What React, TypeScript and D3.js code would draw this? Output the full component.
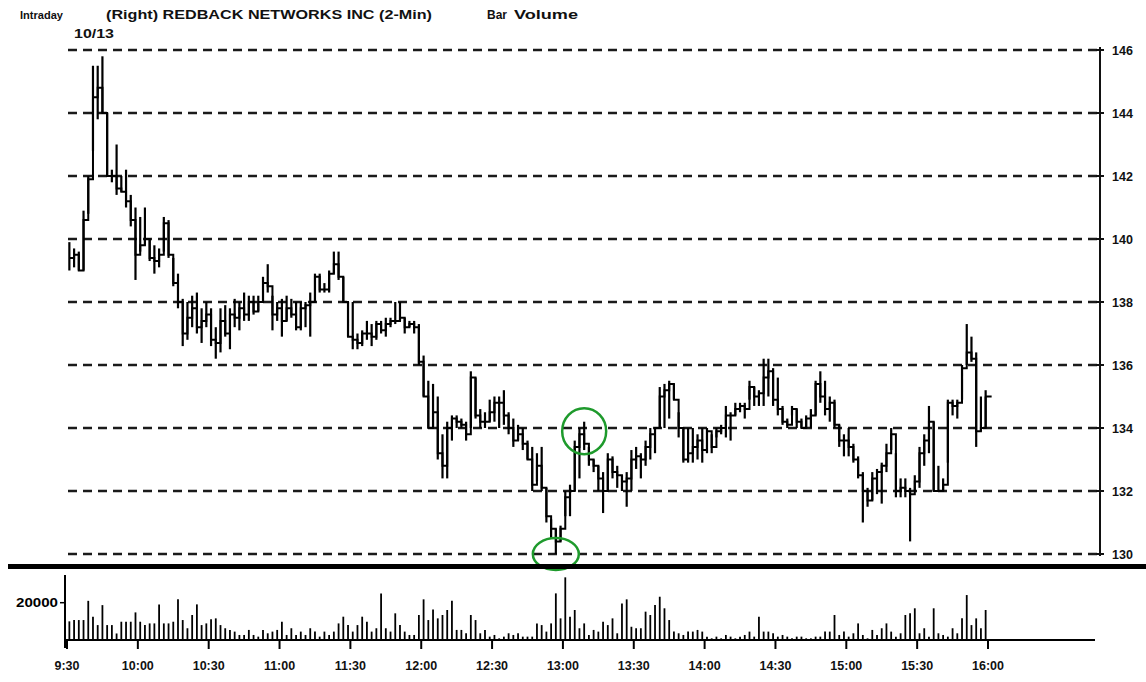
import React, { useEffect, useRef } from 'react';
import * as d3 from 'd3';

// 2-minute bars, 9:30 -> 16:00 (195 bars)
const priceHigh = [
  139.9, 139.7, 139.6, 140.9, 142.0, 145.5, 145.5, 145.8, 144.0, 142.2, 143.0, 142.0, 142.2, 141.4, 141.0,
  140.7, 141.0, 140.0, 139.8, 139.7, 140.7, 140.6, 139.4, 138.9, 138.1, 138.0, 138.2, 138.3, 137.8, 138.0,
  137.8, 137.2, 137.8, 137.9, 137.8, 138.1, 138.0, 138.3, 138.2, 138.2, 138.2, 138.8, 139.2, 138.2, 138.0,
  138.1, 138.2, 138.1, 138.0, 138.0, 138.0, 138.3, 138.9, 138.9, 138.6, 139.0, 139.6, 139.6, 138.8, 138.0,
  138.0, 137.0, 137.1, 137.4, 137.3, 137.4, 137.4, 137.5, 137.5, 138.0, 138.0, 137.5, 137.4, 137.4, 137.3,
  136.3, 135.5, 135.4, 135.0, 133.8, 134.2, 134.4, 134.4, 134.3, 134.2, 135.8, 135.6, 134.6, 134.5, 134.9,
  135.0, 135.0, 135.2, 134.5, 134.3, 134.1, 134.0, 133.6, 133.4, 133.2, 133.4, 132.1, 131.1, 130.8, 130.9,
  132.0, 132.2, 133.6, 134.0, 134.2, 133.4, 133.0, 132.8, 132.6, 133.2, 133.1, 132.8, 132.5, 132.6, 133.3,
  133.4, 133.2, 133.6, 134.0, 134.0, 135.3, 135.4, 135.5, 135.4, 134.5, 134.0, 134.0, 134.0, 133.8, 134.0,
  134.0, 133.8, 134.0, 134.1, 134.7, 134.5, 134.8, 134.8, 134.8, 135.5, 135.3, 135.2, 136.2, 136.2, 135.9,
  135.6, 134.7, 134.3, 134.7, 134.6, 134.3, 134.4, 134.6, 135.5, 135.8, 135.5, 135.0, 134.9, 134.1, 133.8,
  134.0, 133.5, 133.1, 132.6, 132.1, 132.6, 132.7, 132.9, 133.5, 134.0, 133.2, 132.4, 132.4, 132.1, 132.5,
  133.4, 133.8, 134.7, 134.2, 132.8, 132.4, 134.9, 134.9, 134.9, 136.0, 137.3, 136.9, 136.4, 135.0, 135.2,
];

const priceLow = [
  139.0, 139.1, 139.0, 139.0, 140.8, 142.8, 143.8, 144.0, 142.0, 141.8, 141.4, 141.5, 141.0, 140.4, 138.7,
  139.6, 139.8, 139.3, 138.9, 139.1, 139.6, 139.4, 138.5, 137.8, 136.6, 136.8, 137.2, 137.0, 136.7, 137.2,
  136.6, 136.2, 136.4, 136.9, 136.5, 137.2, 137.1, 137.4, 137.4, 137.6, 137.7, 138.0, 138.3, 137.1, 137.4,
  136.9, 137.4, 137.5, 137.1, 137.1, 137.2, 136.9, 138.0, 138.3, 138.3, 138.3, 138.9, 138.7, 138.0, 136.9,
  136.5, 136.5, 136.6, 136.8, 136.6, 136.8, 137.0, 136.9, 137.2, 137.3, 137.4, 137.0, 137.2, 137.0, 136.0,
  135.0, 134.0, 134.0, 133.0, 132.4, 132.4, 133.6, 134.0, 134.0, 133.6, 134.0, 134.3, 134.0, 134.0, 134.2,
  134.2, 134.0, 134.1, 133.8, 133.4, 133.6, 133.3, 133.0, 132.0, 132.3, 132.0, 131.0, 130.5, 130.0, 130.4,
  131.2, 131.2, 132.0, 132.4, 133.3, 132.8, 132.6, 132.0, 131.3, 132.0, 132.4, 132.1, 132.0, 131.5, 132.0,
  132.7, 132.4, 132.8, 133.0, 133.2, 134.0, 134.0, 134.3, 134.9, 133.7, 132.9, 132.9, 132.9, 133.0, 132.9,
  133.2, 133.2, 133.7, 133.8, 133.7, 133.6, 134.4, 134.5, 134.3, 134.9, 134.7, 134.7, 134.7, 135.0, 134.7,
  134.4, 134.1, 134.0, 134.4, 134.0, 134.0, 134.0, 134.0, 134.4, 134.8, 134.4, 134.2, 134.0, 133.4, 133.1,
  133.1, 132.9, 132.4, 131.0, 131.5, 131.7, 131.9, 131.6, 132.6, 133.3, 131.8, 131.8, 131.8, 130.4, 132.0,
  132.1, 132.8, 133.2, 132.0, 132.0, 132.0, 132.9, 134.4, 134.3, 134.9, 136.0, 136.1, 133.4, 133.9, 134.0,
];

const priceClose = [
  139.4, 139.5, 139.0, 140.6, 141.9, 144.5, 144.8, 144.0, 142.0, 142.0, 141.6, 141.5, 141.2, 140.6, 139.5,
  139.8, 140.0, 139.4, 139.3, 139.5, 140.5, 139.5, 138.6, 138.0, 137.0, 137.5, 137.8, 137.2, 137.4, 137.6,
  136.8, 136.7, 137.4, 137.0, 137.6, 137.5, 137.8, 137.6, 138.0, 137.7, 138.0, 138.6, 138.5, 137.6, 137.8,
  137.4, 137.8, 137.6, 137.2, 137.8, 137.9, 138.0, 138.8, 138.4, 138.4, 138.9, 139.2, 138.8, 138.0, 136.9,
  136.8, 136.7, 137.0, 137.0, 136.9, 137.3, 137.1, 137.3, 137.4, 137.4, 137.5, 137.2, 137.3, 137.2, 136.1,
  135.0, 134.0, 134.5, 133.2, 132.8, 134.0, 134.3, 134.2, 134.1, 133.8, 135.6, 134.4, 134.2, 134.2, 134.5,
  134.8, 134.8, 134.4, 134.0, 133.6, 133.8, 133.5, 133.0, 132.2, 132.8, 132.1, 131.2, 130.8, 130.4, 130.8,
  131.8, 132.0, 133.4, 133.8, 133.5, 133.0, 132.8, 132.4, 132.0, 133.0, 132.6, 132.5, 132.3, 132.4, 133.0,
  133.1, 133.0, 133.4, 133.8, 134.0, 135.0, 135.2, 135.4, 134.9, 134.0, 133.0, 133.2, 133.4, 133.6, 133.3,
  133.9, 133.4, 133.9, 134.0, 134.4, 134.4, 134.6, 134.7, 134.6, 135.3, 135.0, 135.1, 135.6, 135.8, 134.9,
  134.6, 134.2, 134.1, 134.6, 134.2, 134.0, 134.3, 134.4, 135.4, 135.0, 134.6, 134.8, 134.1, 133.6, 133.6,
  133.4, 133.0, 132.5, 132.0, 131.7, 132.4, 132.6, 132.8, 133.2, 133.8, 132.0, 132.1, 132.0, 131.9, 132.3,
  133.2, 133.6, 134.2, 132.0, 132.0, 132.2, 134.8, 134.7, 134.8, 135.9, 136.4, 136.2, 133.9, 134.0, 135.0,
];

const volume = [
  10000, 10700, 10700, 10700, 21000, 12500, 8000, 18700, 8000, 8000, 3500, 9800, 9800, 9800, 14800,
  9800, 8000, 8900, 8900, 19100, 8900, 8900, 9800, 21800, 10700, 6300, 13400, 19100, 8000, 8900,
  11100, 11600, 8000, 6300, 5400, 4500, 2700, 2700, 5400, 2700, 1800, 5400, 3600, 4500, 5400,
  9800, 2700, 6300, 2700, 4500, 2700, 6300, 4500, 1800, 4500, 2700, 4500, 8900, 12500, 8000,
  4500, 8000, 12500, 9800, 4500, 6300, 25000, 6300, 4500, 14300, 8000, 4500, 2700, 2700, 13400,
  21800, 10700, 16400, 11600, 13400, 16100, 21000, 5400, 5400, 3600, 13400, 10700, 3600, 5400, 1800,
  2700, 900, 1800, 3600, 2700, 3600, 1800, 1800, 1800, 8900, 8000, 4500, 8900, 25000, 11600,
  33600, 12500, 16100, 6300, 8900, 2700, 5400, 4500, 9800, 8000, 11600, 3600, 19600, 21800, 7100,
  6300, 6300, 15200, 13400, 18700, 23200, 17000, 10700, 4500, 3600, 2700, 4500, 4500, 5400, 4500,
  1800, 900, 1800, 900, 2700, 1800, 900, 1800, 2700, 4500, 1800, 12500, 4500, 4500, 3600,
  1800, 2700, 1800, 900, 1800, 1800, 900, 900, 1800, 1800, 4500, 4500, 13400, 2700, 4500,
  1800, 3600, 8900, 2700, 900, 5400, 2700, 6300, 8900, 4500, 1800, 3600, 13400, 14300, 17000,
  3600, 6300, 1800, 17000, 3600, 2700, 1800, 6300, 3600, 11600, 24100, 8000, 11600, 6300, 16100,
];

const timeLabels = ['9:30', '10:00', '10:30', '11:00', '11:30', '12:00', '12:30', '13:00', '13:30', '14:00', '14:30', '15:00', '15:30', '16:00'];
const priceTicks = [130, 132, 134, 136, 138, 140, 142, 144, 146];

// green hand-drawn circles: [bar index, price]
const marks = [
  { bar: 103, price: 130.0, rx: 23, ry: 16 },
  { bar: 109, price: 133.9, rx: 22, ry: 23 },
];

const FONT = '"Liberation Sans", Arial, sans-serif';

export default function App() {
  const ref = useRef<SVGSVGElement | null>(null);

  useEffect(() => {
    const el = ref.current;
    if (!el) return;
    const svg = d3.select(el);
    svg.selectAll('*').remove();

    const width = 1146;
    const height = 682;

    svg.append('rect').attr('width', width).attr('height', height).attr('fill', '#fff');

    const x = d3.scaleLinear().domain([0, 390]).range([67, 988]);
    const y = d3.scaleLinear().domain([130, 146]).range([554, 50]);
    const yv = d3.scaleLinear().domain([0, 20000]).range([640, 602.7]);
    const barX = (i: number) => x(2 * i + 1);

    // header
    const header = svg.append('g').attr('font-family', FONT).attr('fill', '#111').attr('font-weight', 'bold');
    header.append('text').attr('x', 20).attr('y', 19).attr('font-size', 11).attr('textLength', 43).attr('lengthAdjust', 'spacingAndGlyphs').text('Intraday');
    header.append('text').attr('x', 106).attr('y', 19).attr('font-size', 13).attr('textLength', 326).attr('lengthAdjust', 'spacingAndGlyphs').text('(Right) REDBACK NETWORKS INC  (2-Min)');
    header.append('text').attr('x', 487).attr('y', 19).attr('font-size', 12).attr('textLength', 20).attr('lengthAdjust', 'spacingAndGlyphs').text('Bar');
    header.append('text').attr('x', 514).attr('y', 19).attr('font-size', 12).attr('textLength', 64).attr('lengthAdjust', 'spacingAndGlyphs').text('Volume');
    header.append('text').attr('x', 74).attr('y', 38).attr('font-size', 13).attr('textLength', 40).attr('lengthAdjust', 'spacingAndGlyphs').text('10/13');

    // price grid
    svg.append('g')
      .selectAll('line')
      .data(priceTicks)
      .join('line')
      .attr('x1', 68)
      .attr('x2', 1100)
      .attr('y1', (d) => y(d))
      .attr('y2', (d) => y(d))
      .attr('stroke', '#1a1a1a')
      .attr('stroke-width', 2.4)
      .attr('stroke-dasharray', '9,6');

    // right axis
    svg.append('line').attr('x1', 1100).attr('x2', 1100).attr('y1', y(146) - 3).attr('y2', y(130) + 2)
      .attr('stroke', '#111').attr('stroke-width', 2);
    svg.append('g')
      .selectAll('line')
      .data(priceTicks)
      .join('line')
      .attr('x1', 1096).attr('x2', 1104)
      .attr('y1', (d) => y(d)).attr('y2', (d) => y(d))
      .attr('stroke', '#111').attr('stroke-width', 2);
    svg.append('g')
      .selectAll('text')
      .data(priceTicks)
      .join('text')
      .attr('x', 1112)
      .attr('y', (d) => y(d))
      .attr('dy', '0.36em')
      .attr('font-family', FONT)
      .attr('font-size', 12.5)
      .attr('font-weight', 'bold')
      .attr('fill', '#111')
      .text((d) => d);

    // price bars: high-low verticals + close steps
    const idx = d3.range(priceClose.length);
    svg.append('g')
      .selectAll('line')
      .data(idx)
      .join('line')
      .attr('x1', (i) => barX(i)).attr('x2', (i) => barX(i))
      .attr('y1', (i) => y(priceHigh[i])).attr('y2', (i) => y(priceLow[i]))
      .attr('stroke', '#000').attr('stroke-width', 2.2);

    const step = d3.line<number>()
      .x((i) => barX(i))
      .y((i) => y(priceClose[i]))
      .curve(d3.curveStepAfter);
    svg.append('path')
      .datum(idx)
      .attr('d', step)
      .attr('fill', 'none').attr('stroke', '#000').attr('stroke-width', 2);
    // last close tick
    const last = idx.length - 1;
    svg.append('line').attr('x1', barX(last)).attr('x2', barX(last) + 6)
      .attr('y1', y(priceClose[last])).attr('y2', y(priceClose[last]))
      .attr('stroke', '#000').attr('stroke-width', 2);

    // green annotations
    svg.append('g')
      .selectAll('ellipse')
      .data(marks)
      .join('ellipse')
      .attr('cx', (d) => barX(d.bar))
      .attr('cy', (d) => y(d.price))
      .attr('rx', (d) => d.rx)
      .attr('ry', (d) => d.ry)
      .attr('fill', 'none')
      .attr('stroke', '#1e9a2c')
      .attr('stroke-width', 2.5);

    // thick separator
    svg.append('rect').attr('x', 8).attr('y', 564).attr('width', width - 8).attr('height', 5).attr('fill', '#000');

    // volume panel
    svg.append('line').attr('x1', 65).attr('x2', 65).attr('y1', 575).attr('y2', 648)
      .attr('stroke', '#000').attr('stroke-width', 2);
    svg.append('line').attr('x1', 60).attr('x2', 65).attr('y1', yv(20000)).attr('y2', yv(20000))
      .attr('stroke', '#000').attr('stroke-width', 1.5);
    svg.append('text').attr('x', 16).attr('y', yv(20000)).attr('dy', '0.36em')
      .attr('font-family', FONT).attr('font-size', 12).attr('font-weight', 'bold')
      .attr('textLength', 42).attr('lengthAdjust', 'spacingAndGlyphs').text('20000');

    svg.append('g')
      .selectAll('line')
      .data(idx)
      .join('line')
      .attr('x1', (i) => barX(i)).attr('x2', (i) => barX(i))
      .attr('y1', yv(0)).attr('y2', (i) => yv(volume[i]))
      .attr('stroke', '#000').attr('stroke-width', 1.8);

    svg.append('line').attr('x1', 65).attr('x2', 1095).attr('y1', yv(0)).attr('y2', yv(0))
      .attr('stroke', '#000').attr('stroke-width', 2);

    // time axis
    const tickMin = timeLabels.map((_, k) => k * 30);
    svg.append('g')
      .selectAll('line')
      .data(tickMin)
      .join('line')
      .attr('x1', (d) => x(d)).attr('x2', (d) => x(d))
      .attr('y1', yv(0)).attr('y2', yv(0) + 9)
      .attr('stroke', '#000').attr('stroke-width', 2);
    svg.append('g')
      .selectAll('text')
      .data(timeLabels)
      .join('text')
      .attr('x', (_, k) => x(k * 30))
      .attr('y', 670)
      .attr('text-anchor', 'middle')
      .attr('font-family', FONT)
      .attr('font-size', 12.5)
      .attr('font-weight', 'bold')
      .attr('fill', '#111')
      .text((d) => d);
  }, []);

  return (
    <svg
      ref={ref}
      width={1146}
      height={682}
      style={{ position: 'absolute', left: 0, top: 0, display: 'block' }}
    />
  );
}
